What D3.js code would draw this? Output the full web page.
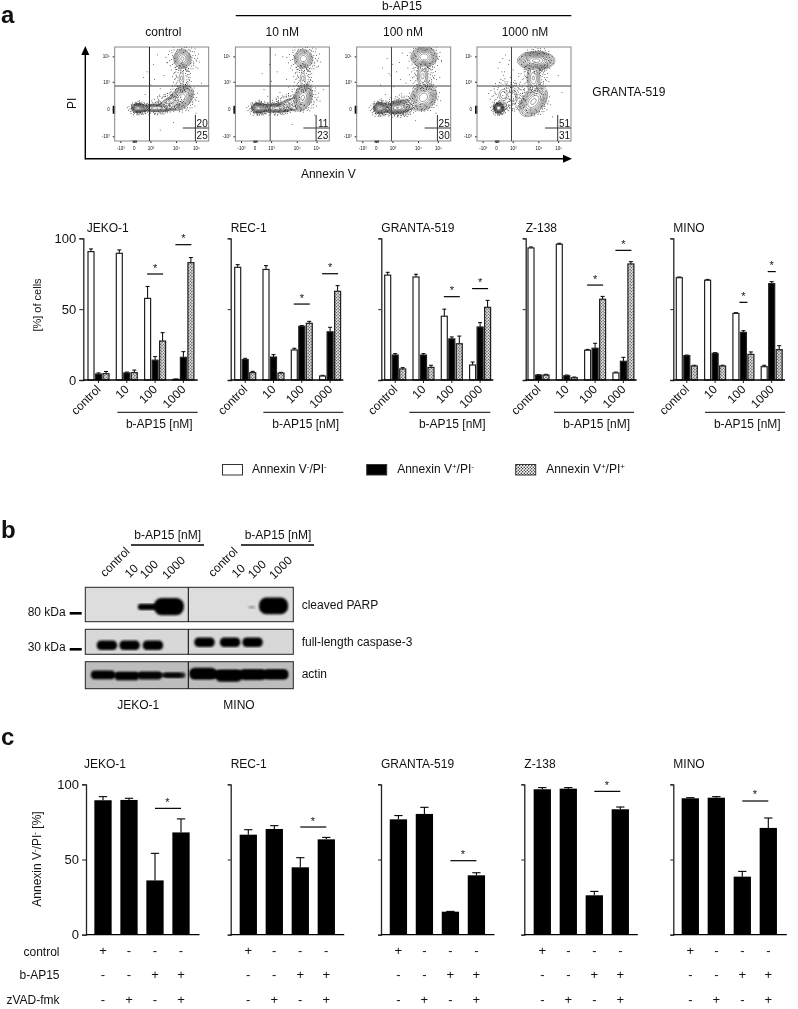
<!DOCTYPE html>
<html>
<head>
  <meta charset="utf-8">
  <title>b-AP15 apoptosis figure</title>
  <script src="https://d3js.org/d3.v7.min.js"></script>
  <style>
    html, body { margin: 0; background: #fff; }
    svg { display: block; filter: blur(.35px); }
    text { font-family: "Liberation Sans", Arial, sans-serif; fill: #111; }
  </style>
</head>
<body>
<svg id="fig" width="798" height="1009"></svg>
<script>
  // ---- data ----
  var cellLines = ['JEKO-1', 'REC-1', 'GRANTA-519', 'Z-138', 'MINO'];
  var doses = ['control', '10', '100', '1000'];
  var percentTicks = [0, 50, 100];

  // panel a, bars: one row per cell line, one value per dose
  var negNeg = [[90.6, 89.4, 57.6, 0.5], [79.5, 78, 21.2, 2.8], [74, 72.7, 45, 10.6], [93.2, 95.8, 21, 5], [72.2, 70.4, 47, 9.4]];
  var negNegTop = [[92.5, 91.8, 66, 0.7], [81.4, 80.7, 22.4, 3.3], [76, 74.6, 50, 12.7], [93.9, 96.5, 21.6, 5.6], [72.7, 71, 47.5, 10.4]];
  var posNeg = [[4.2, 5, 14, 16], [14.4, 16.2, 37.9, 34], [17.6, 17.6, 29, 37.4], [3.5, 3, 22.4, 13.2], [17.2, 18.8, 33.6, 68]];
  var posNegTop = [[5, 5.6, 16.5, 20], [15.3, 17.9, 38.4, 37.2], [18.6, 18.6, 30.4, 40.5], [3.8, 3.5, 25.9, 16], [17.6, 19.3, 34.8, 69.4]];
  var posPos = [[4.5, 5.2, 27.5, 82.8], [5.2, 4.9, 40, 62.6], [7.8, 8.9, 25.6, 51.3], [3.5, 1.6, 57, 81.9], [9.9, 9.9, 18.1, 21.4]];
  var posPosTop = [[6, 7, 33.4, 86.4], [6.1, 5.4, 41.4, 66.6], [8.7, 10.4, 31, 56.2], [4, 2.1, 59, 83.5], [10.4, 10.4, 19.8, 24.2]];
  // significance bars of panel a: height in %, for the 100 and 1000 groups
  var sigA = [[74.8, 95.5], [53.6, 75], [58.8, 64.5], [67, 91.5], [54.8, 76.5]];
  var sigASpan = [1, 1, 1, 1, 0.5];

  // panel c
  var treatControl = ['+', '-', '-', '-'];
  var treatDrug = ['-', '-', '+', '+'];
  var treatZvad = ['-', '+', '-', '+'];
  var survive = [[89.4, 89.6, 36.1, 68], [66.5, 70.3, 44.8, 63.4], [76.7, 80.3, 15.3, 39.5], [96.7, 97.1, 26.2, 83.4], [90.7, 91.1, 38.6, 71]];
  var surviveTop = [[91.8, 90.7, 54.1, 77], [69.8, 72.5, 51.2, 64.7], [79.2, 84.7, 15.5, 41.2], [97.8, 97.8, 28.8, 84.9], [91.1, 91.8, 42.1, 77.6]];
  var sigC = [84, 71.6, 49.2, 95.3, 88.9];

  // panel a, flow plots. populations: [x, y, sdX, sdY, tilt, weight] in % of the plot
  var flowTitles = ['control', '10 nM', '100 nM', '1000 nM'];
  var flowPops = [
    [[25, 35, 3, 2.1, 0, 1], [44.7, 35, 9, 2, 0, .4], [71, 46, 5.8, 5.8, .35, .7], [57, 42, 4.5, 2.6, .5, .2], [72, 87.6, 4.6, 5, 0, .45], [71, 67, 2.5, 5, 0, .1]],
    [[24.5, 35, 3.2, 2.3, 0, 1], [44, 35, 9, 2.2, 0, .5], [71.6, 46, 4.8, 6.5, .3, .6], [54.6, 40.5, 4.5, 2.6, .5, .2], [72.3, 87.6, 5, 5, 0, .4], [71.6, 67, 2.5, 5, 0, .1]],
    [[24.8, 35, 3, 2.6, 0, 1], [42.5, 35, 6, 2.5, 0, .6], [46, 37, 6, 3.5, .3, .4], [70.9, 46.4, 6.4, 6.4, .2, .7], [71.6, 89.4, 6.3, 4.8, 0, .7], [70, 69, 3.6, 6, 0, .2]],
    [[23, 35, 2.2, 2.2, 0, 1.3], [63, 85.5, 8.4, 4.2, 0, 1], [60, 42, 7, 7.5, .45, .6], [60, 67, 4, 7, 0, .25], [28, 49, 4, 5, 0, .12], [39, 47, 3, 6, 0, .12]]
  ];
  var flowFirst = [[20, 25], [11, 23], [25, 30], [51, 31]];
  var flowDivide = [37, 37, 37, 36.7];
  var flowTickPos = [6, 20.3, 38, 65.3, 86.3];
  var flowTickText = ['-10³', '0', '10³', '10⁴', '10⁵'];
  var flowTickPosY = [5, 34, 63, 90];
  var flowTickTextY = ['-10³', '0', '10³', '10⁵'];
  // scattered events around a population, in sd units
  var haloPoints = [[2.2,.4],[-2.4,.8],[1.8,1.9],[-1.7,-2],[2.6,-1.1],[.4,2.7],[-.6,-2.8],[3,.9],[-3.1,-.3],[1.2,-2.6],[2.1,2.6],[-2.6,2.1],[3.3,-.5],[-1.1,3],[.9,3.2],[-2.9,-1.6],[2.8,1.7],[1.6,-3],[-3.4,1.1],[3.5,.2],[-.2,3.5],[.1,-3.3],[2.4,-2.3],[-2.2,2.8],[3.1,-1.9],[-3.6,-.9],[1.4,2.3],[-1.5,1.9],[2,-.9],[-2,.2],[.7,-2.1],[-.8,2.2],[2.9,2.4],[-2.7,-2.6],[1.9,3.1],[3.7,1.2],[-1.9,-3.2],[.3,3.9],[4,-.7],[-4,.4]];
  var strayPoints = [
    [[30,68],[34,74],[38,60],[41,82],[45,92],[48,56],[52,70],[55,84],[42,66],[58,96],[88,78],[92,62],[86,30],[62,20],[48,12],[32,50]],
    [[30,55],[28,72],[38,64],[36,82],[44,74],[47,52],[50,90],[54,66],[58,78],[88,80],[93,55],[84,28],[60,18],[34,48],[42,92],[56,58]],
    [[25,60],[27,78],[30,50],[32,88],[36,70],[39,58],[42,74],[45,84],[48,94],[52,62],[54,78],[88,68],[90,85],[84,30],[62,22],[34,72],[38,82],[46,66]],
    [[22,78],[25,66],[27,88],[29,74],[31,60],[33,82],[28,70],[35,68],[24,84],[30,92],[38,76],[41,62],[44,72],[47,90],[50,56],[53,68],[86,70],[90,52],[80,26],[26,74],[34,86],[37,58]]
  ];

  // panel b, blot bands: [x %, half width %, y %, half height %, darkness]
  var parpBands = [[29.9, 4.6, 57, 9, 1], [40.2, 7.2, 56, 25, 1], [90.5, 7, 54, 24, 1], [80, 1.6, 58, 4, .3]];
  var caspaseBands = [[10.4, 4.9, 64, 19, 1], [21.3, 4.9, 64, 19, 1], [32.5, 4.9, 64, 19, 1], [57.3, 4.9, 52, 19, 1], [69.6, 4.9, 52, 19, 1], [80.4, 4.9, 52, 19, 1]];
  var actinBands = [[8.5, 5.8, 49, 16, 1], [20, 5.8, 53, 16, 1], [31, 5.8, 51, 15, .95], [42.9, 5.2, 50, 10, .85], [25, 21, 50, 8, .8], [56.6, 6.6, 44, 22, 1], [69, 6.6, 52, 22, 1], [80.6, 6.4, 48, 20, 1], [91.6, 6, 47, 19, 1], [74, 23, 47, 14, 1]];
  var blotRows = ['cleaved PARP', 'full-length caspase-3', 'actin'];

  // ---- layout ----
  var svg = d3.select('#fig');
  var defs = svg.append('defs');
  var dots = defs.append('pattern').attr('id', 'dots').attr('width', 3).attr('height', 3)
    .attr('patternUnits', 'userSpaceOnUse');
  dots.append('rect').attr('width', 3).attr('height', 3).attr('fill', '#fff');
  dots.append('circle').attr('cx', .75).attr('cy', .75).attr('r', .7).attr('fill', '#111');
  dots.append('circle').attr('cx', 2.25).attr('cy', 2.25).attr('r', .7).attr('fill', '#111');
  defs.append('filter').attr('id', 'soft').append('feGaussianBlur').attr('stdDeviation', 1);
  defs.append('marker').attr('id', 'arrow').attr('markerUnits', 'userSpaceOnUse')
    .attr('markerWidth', 10).attr('markerHeight', 10).attr('refX', 0).attr('refY', 5).attr('orient', 'auto')
    .append('path').attr('d', 'M0,1L9,5L0,9Z').attr('fill', '#000');

  function label(x, y, str, size, anchor, weight) {
    return svg.append('text').attr('x', x).attr('y', y).attr('font-size', size)
      .attr('text-anchor', anchor || 'start').attr('font-weight', weight || 'normal').text(str);
  }

  // text with superscripts, parts at odd indexes are raised
  function supText(sel, parts) {
    var up = false;
    parts.forEach(function(p, i) {
      var t = sel.append('tspan').text(p);
      if (i % 2 == 1) { t.attr('font-size', 8).attr('dy', -4); up = true; }
      else if (up) { t.attr('dy', 4); up = false; }
    });
  }

  function hline(g, x1, x2, y, w) {
    g.append('line').attr('x1', x1).attr('x2', x2).attr('y1', y).attr('y2', y)
      .attr('stroke', '#000').attr('stroke-width', w || 1);
  }

  function styleAxis(g) {
    g.selectAll('path.domain').attr('stroke', '#222').attr('stroke-width', 1.3);
    g.selectAll('.tick line').attr('stroke', '#222').attr('stroke-width', 1);
    g.selectAll('text').attr('font-family', '"Liberation Sans", Arial, sans-serif').attr('fill', '#111');
  }

  label(1, 23, 'a', 24, 'start', 'bold');
  label(1, 538, 'b', 24, 'start', 'bold');
  label(1, 745, 'c', 24, 'start', 'bold');

  // ---- panel a, flow plots ----
  var flowSize = 94, flowLeft = [114.7, 235.4, 356.7, 477], flowTop = 47;
  var flowCentre = [163.3, 282.3, 403, 525];
  var flowX = d3.scaleLinear().domain([0, 100]).range([0, flowSize]);
  var flowY = d3.scaleLinear().domain([0, 100]).range([flowSize, 0]);
  var grid = 120;
  var thresholds = [.06, .09, .13, .18, .24, .32, .42, .55, .7, .9];
  var gridPath = d3.geoPath(d3.geoIdentity().scale(flowSize / grid));

  defs.append('clipPath').attr('id', 'flowClip').append('rect').attr('width', flowSize).attr('height', flowSize);

  flowTitles.forEach(function(title, k) {
    var g = svg.append('g').attr('transform', 'translate(' + flowLeft[k] + ',' + flowTop + ')');
    var inner = g.append('g').attr('clip-path', 'url(#flowClip)');

    // density of the populations on a grid, then d3 contour lines
    var field = new Float64Array(grid * grid);
    for (var j = 0; j < grid; j++) for (var i = 0; i < grid; i++) {
      var x = (i + .5) / grid * 100, y = 100 - (j + .5) / grid * 100, sum = 0;
      flowPops[k].forEach(function(p) {
        var dx = (x - p[0]) / p[2], dy = (y - p[1]) / p[3], r = p[4];
        sum += p[5] * Math.exp(-(dx * dx - 2 * r * dx * dy + dy * dy) / (2 * (1 - r * r)));
      });
      field[j * grid + i] = sum;
    }
    inner.selectAll('path.ct').data(d3.contours().size([grid, grid]).thresholds(thresholds)(field))
      .enter().append('path').attr('class', 'ct').attr('d', gridPath)
      .attr('fill', 'none').attr('stroke', '#222').attr('stroke-width', .45);

    // events: the halo list as it is, and swapped at a tighter spread
    var events = strayPoints[k].slice();
    flowPops[k].forEach(function(p) {
      var sx = Math.min(p[2], 4.5), sy = Math.min(p[3], 4.5);
      haloPoints.forEach(function(h) {
        events.push([p[0] + h[0] * sx, p[1] + h[1] * sy]);
        events.push([p[0] + h[1] * sx * .8, p[1] - h[0] * sy * .8]);
      });
    });
    inner.selectAll('rect.ev').data(events).enter().append('rect').attr('class', 'ev')
      .attr('x', function(d) { return flowX(d[0]); }).attr('y', function(d) { return flowY(d[1]); })
      .attr('width', .8).attr('height', .8).attr('fill', '#222');

    // pile-up on the axes
    g.append('rect').attr('x', -2).attr('y', flowY(37.5)).attr('width', 2.4).attr('height', 8).attr('fill', '#111');
    g.append('rect').attr('x', flowX(19)).attr('y', flowSize - .5).attr('width', 4.5).attr('height', 2).attr('fill', '#111');

    var ax = d3.axisBottom(flowX).tickValues(flowTickPos).tickSize(2)
      .tickFormat(function(d, i) { return flowTickText[i]; });
    var gx = g.append('g').attr('transform', 'translate(0,' + flowSize + ')').call(ax);
    var ay = d3.axisLeft(flowY).tickValues(flowTickPosY).tickSize(2)
      .tickFormat(function(d, i) { return flowTickTextY[i]; });
    var gy = g.append('g').call(ay);
    [gx, gy].forEach(function(a) {
      styleAxis(a);
      a.selectAll('path.domain').remove();
      a.selectAll('text').attr('font-size', 4.5).attr('fill', '#333');
    });
    gx.selectAll('text').attr('dy', '0.9em');

    g.append('rect').attr('width', flowSize).attr('height', flowSize)
      .attr('fill', 'none').attr('stroke', '#888').attr('stroke-width', 1);
    g.append('line').attr('x1', flowX(flowDivide[k])).attr('x2', flowX(flowDivide[k])).attr('y1', 0).attr('y2', flowSize)
      .attr('stroke', k == 0 ? '#222' : '#444').attr('stroke-width', 1);
    g.append('line').attr('x1', 0).attr('x2', flowSize).attr('y1', 39).attr('y2', 39)
      .attr('stroke', '#444').attr('stroke-width', 1);

    // inset with the percentages
    g.append('line').attr('x1', 80.7).attr('x2', 80.7).attr('y1', 68).attr('y2', flowSize).attr('stroke', '#333');
    g.append('line').attr('x1', 68).attr('x2', flowSize).attr('y1', 81).attr('y2', 81).attr('stroke', '#333');
    g.append('text').attr('x', 93).attr('y', 79.5).attr('text-anchor', 'end').attr('font-size', 10).text(flowFirst[k][0]);
    g.append('text').attr('x', 93).attr('y', 91.5).attr('text-anchor', 'end').attr('font-size', 10).text(flowFirst[k][1]);

    label(flowCentre[k], 35.7, title, 12, 'middle');
  });

  label(402, 10, 'b-AP15', 12, 'middle');
  hline(svg, 235.7, 571.3, 15.7, 1.3);
  svg.append('line').attr('x1', 85.3).attr('x2', 85.3).attr('y1', 159.5).attr('y2', 55)
    .attr('stroke', '#000').attr('stroke-width', 1.4).attr('marker-end', 'url(#arrow)');
  svg.append('line').attr('x1', 85.3).attr('x2', 563).attr('y1', 158.8).attr('y2', 158.8)
    .attr('stroke', '#000').attr('stroke-width', 1.4).attr('marker-end', 'url(#arrow)');
  label(328.3, 178, 'Annexin V', 12, 'middle');
  svg.append('text').attr('transform', 'translate(75.5,103.3) rotate(-90)').attr('text-anchor', 'middle')
    .attr('font-size', 12).text('PI');
  label(592.3, 96, 'GRANTA-519', 12);

  // ---- panel a, bars ----
  var abAxisX = [83.3, 230.7, 381.3, 525.7, 673.3];
  var abBarStart = [1.05, .35, -.25, -1.35, -.65];
  var abAxisEnd = [114.4, 112.6, 112, 111, 111.7];
  var abRule = [[34, 114.4], [32.6, 112.6], [28, 109], [28.3, 108.3], [31.7, 111.7]];
  var abRuleText = [76, 75, 71, 71, 74];
  var abY = d3.scaleLinear().domain([0, 100]).range([380, 238.3]);
  var series = [negNeg, posNeg, posPos];
  var seriesTop = [negNegTop, posNegTop, posPosTop];
  var seriesFill = ['#fff', '#000', 'url(#dots)'];

  cellLines.forEach(function(name, k) {
    var g = svg.append('g').attr('transform', 'translate(' + abAxisX[k] + ',0)');
    var groupX = d3.scaleBand().domain(doses).range([abBarStart[k], abBarStart[k] + 113.2]);
    var innerX = d3.scaleBand().domain([0, 1, 2]).range([3.65, 24.65]).paddingInner(.2);
    var rows = [];
    doses.forEach(function(dose, i) {
      series.forEach(function(s, n) {
        rows.push({ dose: dose, n: n, value: s[k][i], top: seriesTop[n][k][i] });
      });
    });
    function barX(d) { return groupX(d.dose) + innerX(d.n); }
    var w = innerX.bandwidth();

    g.selectAll('line.err').data(rows).enter().append('line').attr('class', 'err')
      .attr('x1', function(d) { return barX(d) + w / 2; }).attr('x2', function(d) { return barX(d) + w / 2; })
      .attr('y1', function(d) { return abY(d.value); }).attr('y2', function(d) { return abY(d.top); })
      .attr('stroke', '#000');
    g.selectAll('line.cap').data(rows).enter().append('line').attr('class', 'cap')
      .attr('x1', function(d) { return barX(d) + 1; }).attr('x2', function(d) { return barX(d) + w - 1; })
      .attr('y1', function(d) { return abY(d.top); }).attr('y2', function(d) { return abY(d.top); })
      .attr('stroke', '#000');
    g.selectAll('rect.bar').data(rows).enter().append('rect').attr('class', 'bar')
      .attr('x', barX).attr('width', w)
      .attr('y', function(d) { return abY(d.value); })
      .attr('height', function(d) { return abY(0) - abY(d.value); })
      .attr('fill', function(d) { return seriesFill[d.n]; })
      .attr('stroke', '#222').attr('stroke-width', 1.2);

    var gy = g.append('g').call(d3.axisLeft(abY).tickValues(percentTicks).tickSize(k == 0 ? 4 : 3)
      .tickFormat(k == 0 ? d3.format('d') : ''));
    styleAxis(gy);
    gy.selectAll('text').attr('font-size', 13);

    var gx = g.append('g').attr('transform', 'translate(0,380)')
      .call(d3.axisBottom(groupX).tickSize(3).tickSizeOuter(0));
    styleAxis(gx);
    gx.select('path.domain').remove();
    gx.selectAll('text').attr('font-size', 12).attr('text-anchor', 'end').attr('dy', 0).attr('y', 0)
      .attr('transform', 'translate(3,10) rotate(-45)');
    hline(g, 0, abAxisEnd[k], 380, 1.3);

    // significance bars
    [2, 3].forEach(function(gi, n) {
      var span = 16 * sigASpan[k];
      var cx = groupX(doses[gi]) + groupX.bandwidth() / 2;
      hline(g, cx - span / 2, cx + span / 2, abY(sigA[k][n]), 1.2);
      g.append('text').attr('x', cx).attr('y', abY(sigA[k][n]) - 2.5).attr('text-anchor', 'middle')
        .attr('font-size', 11).text('*');
    });

    hline(g, abRule[k][0], abRule[k][1], 412.3, 1);
    g.append('text').attr('x', abRuleText[k]).attr('y', 428).attr('text-anchor', 'middle')
      .attr('font-size', 12).text('b-AP15 [nM]');
    label(abAxisX[k] + (k == 0 ? 3.4 : 0), 231.7, name, 12);
  });

  svg.append('text').attr('transform', 'translate(41,305) rotate(-90)').attr('text-anchor', 'middle')
    .attr('font-size', 11).text('[%] of cells');

  // legend
  var legendParts = [['Annexin V', '-', '/PI', '-'], ['Annexin V', '+', '/PI', '-'], ['Annexin V', '+', '/PI', '+']];
  var legendX = [222.5, 366.7, 515.7];
  legendParts.forEach(function(parts, i) {
    svg.append('rect').attr('x', legendX[i]).attr('y', 464.5).attr('width', 20).attr('height', 10.5)
      .attr('fill', seriesFill[i]).attr('stroke', '#333').attr('stroke-width', 1);
    supText(svg.append('text').attr('x', legendX[i] + 29.5 + (i == 0 ? 0 : 1)).attr('y', 473.3).attr('font-size', 12), parts);
  });

  // ---- panel b ----
  var blotX = d3.scaleLinear().domain([0, 100]).range([85.3, 293.3]);
  var blotTops = [587.3, 629.3, 661.7], blotBottoms = [621.7, 654.3, 688.7];
  var blotBg = ['#dddddd', '#d8d8d8', '#bdbdbd'];
  var blotBands = [parpBands, caspaseBands, actinBands];

  blotRows.forEach(function(name, r) {
    var y = d3.scaleLinear().domain([0, 100]).range([blotTops[r], blotBottoms[r]]);
    var id = 'blot' + r;
    defs.append('clipPath').attr('id', id).append('rect').attr('x', blotX(0)).attr('y', y(0))
      .attr('width', blotX(100) - blotX(0)).attr('height', y(100) - y(0));
    svg.append('rect').attr('x', blotX(0)).attr('y', y(0)).attr('width', blotX(100) - blotX(0))
      .attr('height', y(100) - y(0)).attr('fill', blotBg[r]);
    // bands are pills with soft edges
    svg.append('g').attr('clip-path', 'url(#' + id + ')').selectAll('rect').data(blotBands[r]).enter().append('rect')
      .attr('x', function(d) { return blotX(d[0] - d[1]); })
      .attr('width', function(d) { return 2 * (blotX(d[1]) - blotX(0)); })
      .attr('y', function(d) { return y(d[2] - d[3]); })
      .attr('height', function(d) { return 2 * (y(d[3]) - y(0)); })
      .attr('rx', function(d) { return .9 * (y(d[3]) - y(0)); })
      .attr('fill', '#050505').attr('opacity', function(d) { return d[4]; })
      .attr('filter', 'url(#soft)');
    svg.append('rect').attr('x', blotX(0)).attr('y', y(0)).attr('width', blotX(100) - blotX(0))
      .attr('height', y(100) - y(0)).attr('fill', 'none').attr('stroke', '#222').attr('stroke-width', 1);
    svg.append('line').attr('x1', 188.3).attr('x2', 188.3).attr('y1', y(0)).attr('y2', y(100))
      .attr('stroke', '#000').attr('stroke-width', 1);
  });
  label(301.7, 609, blotRows[0], 12);
  label(301.7, 646, blotRows[1], 12);
  label(301.7, 677.7, blotRows[2], 12);
  label(65.7, 616, '80 kDa', 12, 'end');
  label(65.7, 651, '30 kDa', 12, 'end');
  hline(svg, 69.7, 81.7, 613.3, 2.6);
  hline(svg, 69.7, 81.7, 649.3, 2.6);
  label(138.3, 709, 'JEKO-1', 12, 'middle');
  label(239, 709, 'MINO', 12, 'middle');
  label(167.7, 539, 'b-AP15 [nM]', 12, 'middle');
  label(278, 539, 'b-AP15 [nM]', 12, 'middle');
  hline(svg, 131, 204, 545, 1.3);
  hline(svg, 241, 314, 545, 1.3);
  var laneEndX = [[130.5, 139, 159, 186], [238.5, 246, 267, 293]];
  var laneEndY = [552, 569, 565, 561];
  laneEndX.forEach(function(row) {
    doses.forEach(function(dose, i) {
      svg.append('text').attr('font-size', 12)
        .attr('transform', 'translate(' + row[i] + ',' + laneEndY[i] + ') rotate(-45)')
        .attr('text-anchor', 'end').text(dose);
    });
  });

  // ---- panel c ----
  var cAxisX = [86, 230.7, 381, 524.3, 673.3];
  var cBarStart = [4, 4.6, 4.4, 5, 4];
  var cAxisEnd = 113.5;
  var cY = d3.scaleLinear().domain([0, 100]).range([934.7, 784.3]);
  var rowNames = ['control', 'b-AP15', 'zVAD-fmk'];
  var rowSigns = [treatControl, treatDrug, treatZvad];
  var rowY = [951, 975, 1000];
  var rowBase = [955.7, 979, 1004];

  cellLines.forEach(function(name, k) {
    var g = svg.append('g').attr('transform', 'translate(' + cAxisX[k] + ',0)');
    var x = d3.scaleBand().domain([0, 1, 2, 3]).range([cBarStart[k], cBarStart[k] + 104])
      .paddingInner(.335).paddingOuter(.1675);
    var w = x.bandwidth();
    g.selectAll('line.err').data(survive[k]).enter().append('line').attr('class', 'err')
      .attr('x1', function(d, i) { return x(i) + w / 2; }).attr('x2', function(d, i) { return x(i) + w / 2; })
      .attr('y1', function(d) { return cY(d); }).attr('y2', function(d, i) { return cY(surviveTop[k][i]); })
      .attr('stroke', '#000').attr('stroke-width', 1.1);
    g.selectAll('line.cap').data(surviveTop[k]).enter().append('line').attr('class', 'cap')
      .attr('x1', function(d, i) { return x(i) + 4.5; }).attr('x2', function(d, i) { return x(i) + w - 4.5; })
      .attr('y1', function(d) { return cY(d); }).attr('y2', function(d) { return cY(d); })
      .attr('stroke', '#000').attr('stroke-width', 1.1);
    g.selectAll('rect.bar').data(survive[k]).enter().append('rect').attr('class', 'bar')
      .attr('x', function(d, i) { return x(i); }).attr('width', w)
      .attr('y', function(d) { return cY(d); })
      .attr('height', function(d) { return cY(0) - cY(d); })
      .attr('fill', '#000');

    var gy = g.append('g').call(d3.axisLeft(cY).tickValues(percentTicks).tickSize(k == 0 ? 4 : 3)
      .tickFormat(k == 0 ? d3.format('d') : ''));
    styleAxis(gy);
    gy.selectAll('text').attr('font-size', 13);
    hline(g, 0, cAxisEnd, 934.7, 1.3);

    var sx1 = x(2) + w / 2, sx2 = x(3) + w / 2;
    hline(g, sx1, sx2, cY(sigC[k]), 1.2);
    g.append('text').attr('x', (sx1 + sx2) / 2 - .5).attr('y', cY(sigC[k]) - 2.5).attr('text-anchor', 'middle')
      .attr('font-size', 11).text('*');

    rowSigns.forEach(function(signs, r) {
      g.selectAll('text.sign' + r).data(signs).enter().append('text').attr('class', 'sign' + r)
        .attr('x', function(d, i) { return x(i) + w / 2; })
        .attr('y', rowY[r] + 4)
        .attr('text-anchor', 'middle').attr('font-size', 13).text(function(d) { return d; });
    });
    label(cAxisX[k] + (k == 0 ? -2 : 0), 767.5, name, 12);
  });
  rowNames.forEach(function(name, r) { label(59.5, rowBase[r], name, 12, 'end'); });

  var yTitle = svg.append('text').attr('transform', 'translate(41,859) rotate(-90)').attr('text-anchor', 'middle')
    .attr('font-size', 12);
  supText(yTitle, ['Annexin V', '-', '/PI', '-', ' [%]']);
</script>
</body>
</html>
